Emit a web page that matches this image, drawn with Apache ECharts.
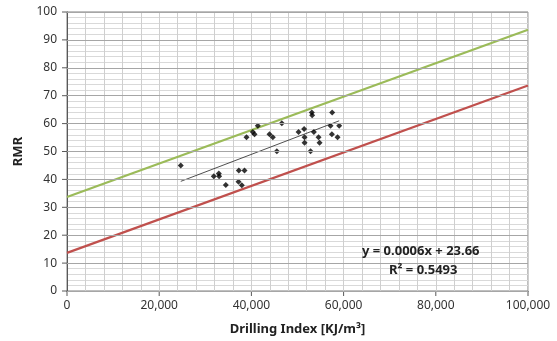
<!DOCTYPE html>
<html>
<head>
<meta charset="utf-8">
<script src="https://cdn.jsdelivr.net/npm/echarts@6/dist/echarts.min.js"></script>
<style>
  html, body { margin: 0; padding: 0; background: #fff; }
  #chart { width: 557px; height: 341px; }
</style>
</head>
<body>
<div id="chart"></div>
<script>
// drilling index (KJ/m3) vs RMR
const drillingIndex = [24680, 31840, 32930, 33000, 34450, 37270, 38510, 37200, 37920, 38940,
    40310, 40680, 41390, 43930, 44650, 45520, 46600, 50230, 51440, 51530,
    51530, 52830, 53550, 53110, 53180, 54570, 54790, 57520, 57170, 59040,
    57460, 58690];
const rmr = [45.0, 41.1, 42.1, 41.1, 38.0, 43.2, 43.2, 39.2, 37.9, 55.1,
    57.0, 56.2, 59.2, 56.2, 55.1, 50.1, 60.1, 57.0, 58.1, 55.1,
    53.1, 50.1, 57.0, 64.0, 63.0, 55.1, 53.1, 64.0, 59.2, 59.2,
    56.2, 55.1];

// linear trend ends, and the upper / lower bounds
const trendLine = [[24680, 39.3], [59040, 61.0]];
const upperLine = [[0, 33.66], [100000, 93.66]];
const lowerLine = [[0, 13.66], [100000, 73.66]];

const xTicks = [0, 20000, 40000, 60000, 80000, 100000];
const majorY = [0, 10, 20, 30, 40, 50, 60, 70, 80, 90, 100];
const equationText = 'y = 0.0006x + 23.66';
const rSquaredText = 'R² = 0.5493';

const font = 'Noto Sans';
const chart = echarts.init(document.getElementById('chart'));

const points = drillingIndex.map((x, i) => [x, rmr[i]]);

const makeLine = (data, color, width) => ({
    type: 'line',
    data: data,
    symbol: 'none',
    silent: true,
    lineStyle: { color: color, width: width },
    z: 2
});

// y axis: major every 10 (darker), minor every 2
const yMajorLines = {
    type: 'line', data: [], silent: true,
    markLine: {
        silent: true, symbol: 'none', label: { show: false },
        lineStyle: { color: '#a6a6a6', width: 1, type: 'solid' },
        data: majorY.map(v => ({ yAxis: v }))
    },
    z: 1
};

const labels = [
    {
        type: 'text', left: 362, top: 245, z: 10,
        style: { text: equationText, font: 'bold 13px "Noto Sans"', fill: '#222' }
    },
    {
        type: 'text', left: 389, top: 264, z: 10,
        style: { text: rSquaredText, font: 'bold 13px "Noto Sans"', fill: '#222' }
    }
];

chart.setOption({
    animation: false,
    textStyle: { fontFamily: font },
    grid: {
        left: 67, right: 29, top: 12, bottom: 49,
        show: true, borderColor: '#7f7f7f', borderWidth: 1
    },
    xAxis: {
        type: 'value',
        min: 0, max: 100000, interval: 4000,
        name: 'Drilling Index [KJ/m³]',
        nameLocation: 'middle',
        nameGap: 32,
        nameTextStyle: { fontFamily: font, fontWeight: 'bold', fontSize: 13, color: '#222' },
        axisLine: { lineStyle: { color: '#595959' } },
        axisTick: { show: false },
        axisLabel: {
            color: '#333', fontSize: 12, margin: 9,
            formatter: v => xTicks.includes(v) ? v.toLocaleString('en-US') : ''
        },
        splitLine: { lineStyle: { color: '#cfcfcf', width: 1 } }
    },
    yAxis: {
        type: 'value',
        min: 0, max: 100, interval: 2,
        name: 'RMR',
        nameLocation: 'middle',
        nameGap: 42,
        nameTextStyle: { fontFamily: font, fontWeight: 'bold', fontSize: 13, color: '#222' },
        axisLine: { show: true, lineStyle: { color: '#595959' } },
        axisTick: { show: false },
        axisLabel: {
            color: '#333', fontSize: 12, margin: 10,
            formatter: v => v % 10 === 0 ? String(v) : ''
        },
        splitLine: { lineStyle: { color: '#d9d9d9', width: 1 } }
    },
    graphic: labels,
    series: [
        yMajorLines,
        makeLine(upperLine, '#9bbb59', 2.2),
        makeLine(lowerLine, '#c0504d', 2.2),
        makeLine(trendLine, '#222', 0.8),
        {
            type: 'scatter',
            data: points,
            symbol: 'diamond',
            symbolSize: 6,
            itemStyle: { color: '#000' },
            z: 3
        }
    ]
});

// outer tick marks on both axes
const grid = chart.getModel().getComponent('grid').coordinateSystem.getRect();
const ticks = [];
majorY.forEach(v => {
    const p = chart.convertToPixel({ gridIndex: 0 }, [0, v]);
    ticks.push({ type: 'line', shape: { x1: grid.x - 5, y1: p[1], x2: grid.x, y2: p[1] },
        style: { stroke: '#595959', lineWidth: 1 }, silent: true });
});
xTicks.forEach(v => {
    const p = chart.convertToPixel({ gridIndex: 0 }, [v, 0]);
    ticks.push({ type: 'line', shape: { x1: p[0], y1: p[1], x2: p[0], y2: p[1] + 5 },
        style: { stroke: '#595959', lineWidth: 1 }, silent: true });
});
chart.setOption({ graphic: labels.concat(ticks) }, { replaceMerge: ['graphic'] });
</script>
</body>
</html>
